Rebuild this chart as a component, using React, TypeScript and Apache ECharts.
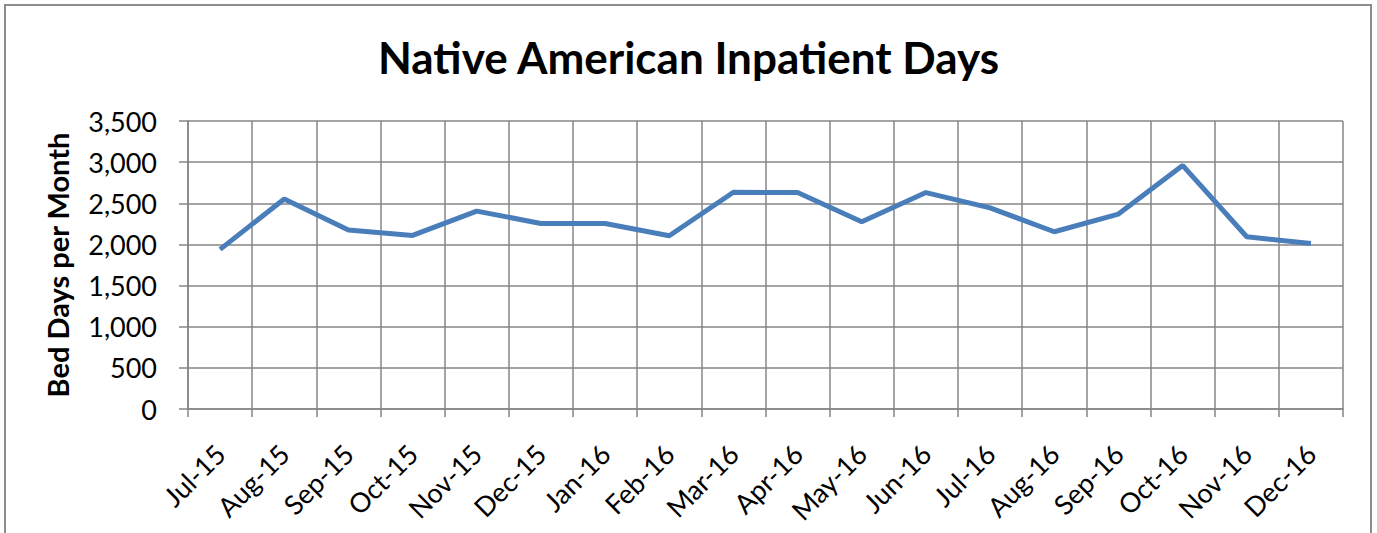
import React, { useEffect, useRef } from "react";
import * as echarts from "echarts";

const TITLE = "Native American Inpatient Days";
const Y_AXIS_TITLE = "Bed Days per Month";
const categories = [
  "Jul-15", "Aug-15", "Sep-15", "Oct-15", "Nov-15", "Dec-15",
  "Jan-16", "Feb-16", "Mar-16", "Apr-16", "May-16", "Jun-16",
  "Jul-16", "Aug-16", "Sep-16", "Oct-16", "Nov-16", "Dec-16",
];
const bedDays = [
  1940, 2553, 2174, 2109, 2405, 2255,
  2255, 2105, 2634, 2630, 2275, 2630,
  2445, 2154, 2369, 2960, 2093, 2012,
];
const yMin = 0;
const yMax = 3500;
const yInterval = 500;

export default function App() {
  const ref = useRef<HTMLDivElement>(null);
  useEffect(() => {
    if (!ref.current) return;
    const chart = echarts.init(ref.current, undefined, { renderer: "svg" });
    const font = "Lato, 'Open Sans', sans-serif";
    chart.setOption({
      animation: false,
      backgroundColor: "#ffffff",
      title: {
        text: TITLE,
        left: "center",
        top: 30,
        textStyle: { fontFamily: font, fontWeight: "bold", fontSize: 44, color: "#000" },
      },
      graphic: [
        {
          type: "rect",
          shape: { x: 5, y: 5, width: 1366, height: 560 },
          style: { fill: "none", stroke: "#8c8c8c", lineWidth: 2 },
          silent: true,
        },
      ],
      grid: { left: 188, right: 34, top: 121, bottom: 124, containLabel: false },
      xAxis: {
        type: "category",
        data: categories,
        boundaryGap: true,
        axisLine: { show: true, lineStyle: { color: "#868686", width: 1.5 } },
        axisTick: { show: true, length: 8, alignWithLabel: false, lineStyle: { color: "#868686", width: 1.5 } },
        splitLine: { show: true, lineStyle: { color: "#868686", width: 1.5 } },
        axisLabel: {
          rotate: 45,
          margin: 40,
          interval: 0,
          fontFamily: font,
          fontSize: 27,
          color: "#000",
        },
      },
      yAxis: {
        type: "value",
        min: yMin,
        max: yMax,
        interval: yInterval,
        name: Y_AXIS_TITLE,
        nameLocation: "middle",
        nameGap: 116,
        nameTextStyle: { fontFamily: font, fontWeight: "bold", fontSize: 29, color: "#000" },
        axisLine: { show: true, lineStyle: { color: "#868686", width: 1.5 } },
        axisTick: { show: true, length: 9, lineStyle: { color: "#868686", width: 1.5 } },
        splitLine: { show: true, lineStyle: { color: "#868686", width: 1.5 } },
        axisLabel: {
          margin: 31,
          fontFamily: font,
          fontSize: 27,
          color: "#000",
          formatter: (v: number) => v.toLocaleString("en-US"),
        },
      },
      series: [
        {
          type: "line",
          data: bedDays,
          showSymbol: false,
          symbol: "none",
          lineStyle: { color: "#4A7EBB", width: 5 },
          itemStyle: { color: "#4A7EBB" },
        },
      ],
    });
    return () => chart.dispose();
  }, []);
  return (
    <div
      ref={ref}
      style={{ position: "fixed", left: 0, top: 0, width: 1377, height: 533 }}
    />
  );
}
